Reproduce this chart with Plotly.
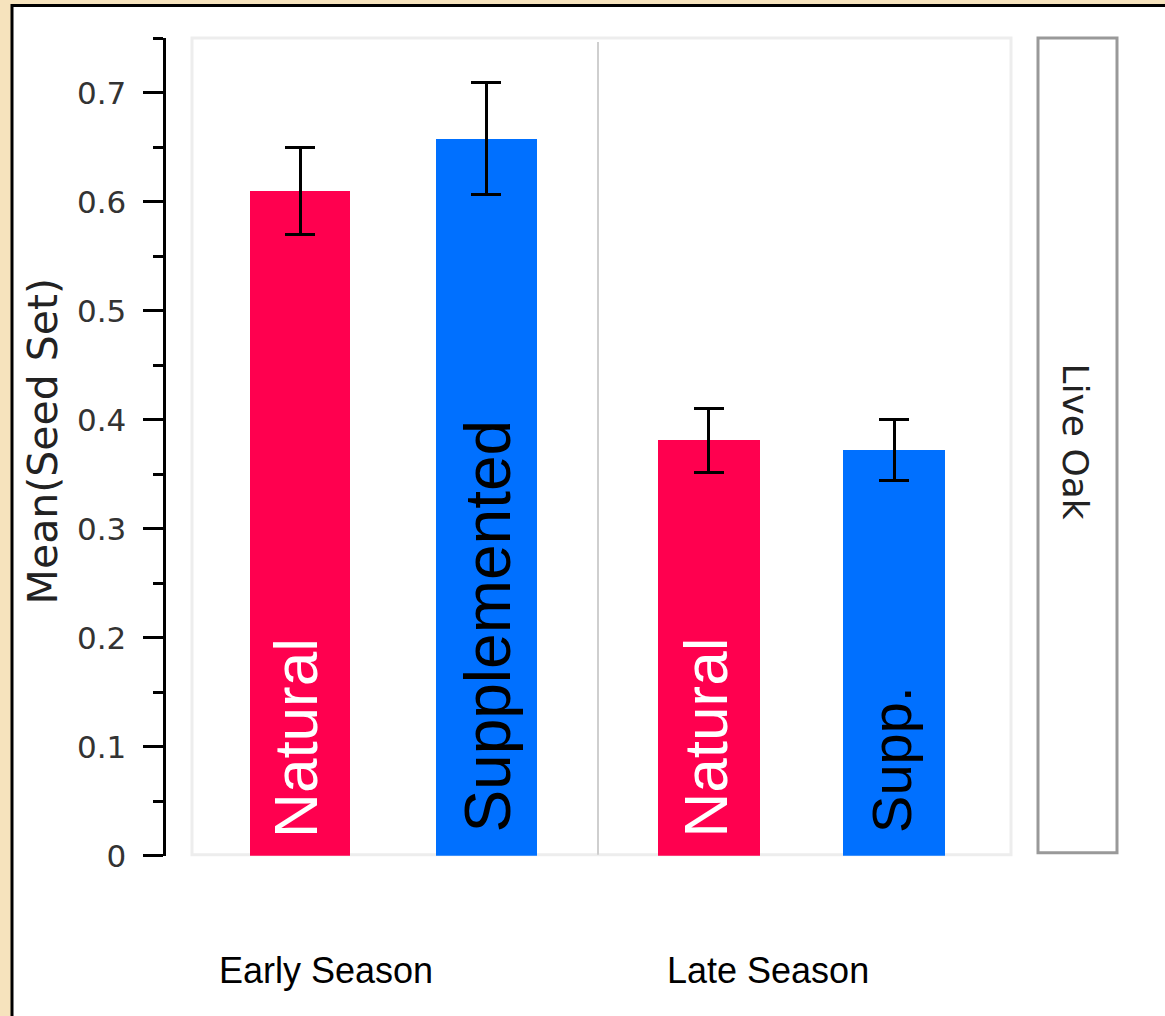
import plotly.graph_objects as go

# Seed set by pollination treatment, Live Oak site
seasons = ["Early Season", "Late Season"]
early_treatments = ["Natural", "Supplemented"]
late_treatments = ["Natural", "Supp."]
early_means = [0.610, 0.658]
early_err = [0.040, 0.051]
late_means = [0.381, 0.372]
late_err = [0.029, 0.028]
bar_colors = ["#FF004F", "#0070FF"]
label_colors = ["white", "black"]
y_ticks = [0, 0.1, 0.2, 0.3, 0.4, 0.5, 0.6, 0.7]
y_tick_text = ["0", "0.1", "0.2", "0.3", "0.4", "0.5", "0.6", "0.7"]
site = "Live Oak"

W, H = 1165, 1016
H_VIEW = 997  # usable drawing height of the page


def px(x):
    return x / W


def py(y):
    return 1 - y / H_VIEW


fig = go.Figure()

err_style = dict(type="data", color="black", thickness=3, width=15, visible=True)

fig.add_trace(go.Bar(
    x=early_treatments, y=early_means, width=0.54,
    marker=dict(color=bar_colors, line=dict(width=0)),
    error_y=dict(array=early_err, **err_style),
    xaxis="x", yaxis="y", showlegend=False, hoverinfo="skip",
))
fig.add_trace(go.Bar(
    x=late_treatments, y=late_means, width=0.55,
    marker=dict(color=bar_colors, line=dict(width=0)),
    error_y=dict(array=late_err, **err_style),
    xaxis="x2", yaxis="y", showlegend=False, hoverinfo="skip",
))

annotations = []
# treatment names written up the bars
label_sizes = {"Natural": 62, "Supplemented": 64, "Supp.": 56}
label_lift = {"Natural": 16, "Supplemented": 21, "Supp.": 21}
label_shift = {"x": [-4, 2], "x2": [-3, -2]}
for xref, names in (("x", early_treatments), ("x2", late_treatments)):
    for i, (name, col) in enumerate(zip(names, label_colors)):
        annotations.append(dict(
            x=name, y=0, xref=xref, yref="y", text=name, textangle=-90,
            showarrow=False, yanchor="bottom", xanchor="center",
            yshift=label_lift[name], xshift=label_shift[xref][i],
            font=dict(family="Liberation Sans, Arial", size=label_sizes[name],
                      color=col),
        ))

# season labels under each panel
for label, xc in zip(seasons, [326, 768]):
    annotations.append(dict(
        x=px(xc), y=py(970), xref="paper", yref="paper", text=label,
        showarrow=False, xanchor="center", yanchor="middle",
        font=dict(family="Liberation Sans, Arial", size=36, color="black"),
    ))

# y axis title
annotations.append(dict(
    x=px(43), y=py(441), xref="paper", yref="paper", text="Mean(Seed Set)",
    textangle=-90, showarrow=False, xanchor="center", yanchor="middle",
    font=dict(family="DejaVu Sans", size=41, color="#222"),
))

# site strip label
annotations.append(dict(
    x=px(1076), y=py(441), xref="paper", yref="paper", text=site,
    textangle=90, showarrow=False, xanchor="center", yanchor="middle",
    font=dict(family="DejaVu Sans", size=36, color="#222"),
))

shapes = [
    # white sheet over the textured backdrop
    dict(type="rect", xref="paper", yref="paper", x0=px(12), x1=px(1200),
         y0=py(1060), y1=py(5.5), fillcolor="white",
         line=dict(color="black", width=3), layer="below"),
    # plot frame
    dict(type="rect", xref="paper", yref="paper", x0=px(192), x1=px(1011),
         y0=py(854), y1=py(38), fillcolor="rgba(0,0,0,0)",
         line=dict(color="#EDEDED", width=3), layer="below"),
    # divider between seasons
    dict(type="line", xref="paper", yref="paper", x0=px(598), x1=px(598),
         y0=py(854), y1=py(42), line=dict(color="#CFCFCF", width=2),
         layer="below"),
    # strip box
    dict(type="rect", xref="paper", yref="paper", x0=px(1038), x1=px(1117),
         y0=py(852), y1=py(38), fillcolor="white",
         line=dict(color="#999999", width=3), layer="below"),
]

hidden_x = dict(showticklabels=False, showline=False, showgrid=False,
                zeroline=False, ticks="", fixedrange=True, type="category")

fig.update_layout(
    width=W, height=H, autosize=False,
    margin=dict(l=0, r=0, t=0, b=0, pad=0),
    paper_bgcolor="#F6E3BD", plot_bgcolor="rgba(0,0,0,0)",
    bargap=0,
    xaxis=dict(domain=[px(192), px(598)], range=[-0.58, 1.6], anchor="y",
               **hidden_x),
    xaxis2=dict(domain=[px(598), px(1012)], range=[-0.596, 1.636], anchor="y",
                **hidden_x),
    yaxis=dict(
        domain=[py(855), py(38)], range=[0, 0.7502], anchor="free",
        position=px(163.5), showgrid=False, zeroline=False,
        showline=True, linecolor="black", linewidth=3,
        ticks="outside", ticklen=20, tickwidth=3, tickcolor="black",
        tickvals=y_ticks, ticktext=y_tick_text, ticklabelstandoff=10,
        tickfont=dict(family="DejaVu Sans", size=31, color="#333"),
        minor=dict(dtick=0.05, ticks="outside", ticklen=10, tickwidth=3,
                   tickcolor="black", showgrid=False),
    ),
    annotations=annotations,
    shapes=shapes,
)

fig.write_html("out.html")
